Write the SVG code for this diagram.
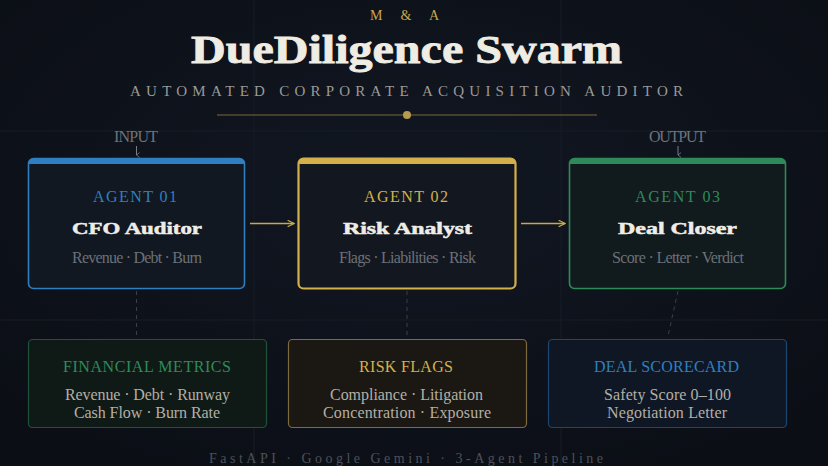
<svg xmlns="http://www.w3.org/2000/svg" width="828" height="466" viewBox="0 0 828 466">
<defs>
<style>
text{font-family:"Liberation Serif","Times New Roman",serif}
.grid{stroke:#161c27;stroke-width:1}
.dash{stroke:#3a404a;stroke-width:1;stroke-dasharray:4 4;fill:none}
.flow{stroke:#c9a84a;stroke-width:1.6;fill:none}
.lbl{fill:#6f737a;font-size:11.5}
.agent{font-size:13.5}
.name{font-size:22;font-weight:bold;fill:#f0ede6;stroke:#f0ede6;stroke-width:0.5}
.sub{font-size:13.5;fill:#6b7078}
.ctitle{font-size:12}
.cline{font-size:15.5;fill:#b3afa6}
</style>
<marker id="chev" viewBox="0 0 10 10" refX="9" refY="5" markerWidth="8" markerHeight="8" markerUnits="userSpaceOnUse" orient="auto">
<path d="M1,1 L9,5 L1,9" fill="none" stroke="#c9a84a" stroke-width="1.6"/>
</marker>
<marker id="down" viewBox="0 0 10 10" refX="5" refY="9" markerWidth="6" markerHeight="6" markerUnits="userSpaceOnUse" orient="auto-start-reverse">
<path d="M1,4 L5,9 L9,4" fill="none" stroke="#7a7e85" stroke-width="1.4"/>
</marker>
<radialGradient id="bg" cx="50%" cy="40%" r="70%">
<stop offset="0" stop-color="#111722"/>
<stop offset="1" stop-color="#0b0e15"/>
</radialGradient>
</defs>
<rect width="828" height="466" fill="url(#bg)"/>
<g id="grid">
<line class="grid" x1="0" y1="131" x2="828" y2="131"/>
<line class="grid" x1="0" y1="320" x2="828" y2="320"/>
<line class="grid" x1="254" y1="0" x2="254" y2="466"/>
<line class="grid" x1="561" y1="0" x2="561" y2="466"/>
</g>
<g id="header">
<text x="370" y="20" font-size="14" fill="#c9a84a" textLength="69">M &amp; A</text>
<text x="191" y="63" font-size="40" font-weight="bold" fill="#efece4" stroke="#efece4" stroke-width="0.8" textLength="431" lengthAdjust="spacingAndGlyphs">DueDiligence Swarm</text>
<text x="130" y="96" font-size="15" fill="#9a9a98" textLength="553">AUTOMATED CORPORATE ACQUISITION AUDITOR</text>
<line x1="217" y1="115" x2="597" y2="115" stroke="#7a6838" stroke-width="1.2"/>
<circle cx="407" cy="115" r="4" fill="#b89a4e"/>
</g>
<g id="connectors">
<line class="flow" x1="250" y1="223.5" x2="294" y2="223.5" marker-end="url(#chev)"/>
<line class="flow" x1="521" y1="223.5" x2="565" y2="223.5" marker-end="url(#chev)"/>
<line x1="136.5" y1="146" x2="136.5" y2="155" stroke="#7a7e85" stroke-width="1" marker-end="url(#down)"/>
<line x1="678" y1="146" x2="678" y2="155" stroke="#7a7e85" stroke-width="1" marker-end="url(#down)"/>
<line class="dash" x1="136.5" y1="291" x2="136.5" y2="336"/>
<line class="dash" x1="407" y1="291" x2="407" y2="336"/>
<line class="dash" x1="678" y1="291" x2="668" y2="336"/>
</g>
<g id="input-label"><text class="lbl" x="114" y="142" textLength="44">INPUT</text></g>
<g id="output-label"><text class="lbl" x="649" y="142" textLength="57">OUTPUT</text></g>
<g id="agent1">
<rect x="28.5" y="158.5" width="216" height="130" rx="5" fill="#111821" stroke="#2f7fc0" stroke-width="1.6"/>
<path d="M28.5,164 V163.5 a5,5 0 0 1 5,-5 H239.5 a5,5 0 0 1 5,5 V164 Z" fill="#2f7fc0"/>
<text class="agent" x="93" y="202" fill="#2f7fc0" textLength="84">AGENT 01</text>
<text class="name" x="72" y="234" textLength="130" lengthAdjust="spacingAndGlyphs">CFO Auditor</text>
<text class="sub" x="72" y="263" textLength="130">Revenue · Debt · Burn</text>
</g>
<g id="agent2">
<rect x="298.5" y="158.5" width="217" height="130" rx="5" fill="#131820" stroke="#d4b04a" stroke-width="2.2"/>
<path d="M298.5,164 V163.5 a5,5 0 0 1 5,-5 H510.5 a5,5 0 0 1 5,5 V164 Z" fill="#d4b04a"/>
<text class="agent" x="364" y="202" fill="#d4b04a" textLength="84">AGENT 02</text>
<text class="name" x="343" y="234" textLength="129" lengthAdjust="spacingAndGlyphs">Risk Analyst</text>
<text class="sub" x="339" y="263" textLength="137">Flags · Liabilities · Risk</text>
</g>
<g id="agent3">
<rect x="569.5" y="158.5" width="216" height="130" rx="5" fill="#111a1d" stroke="#2f8a5a" stroke-width="1.6"/>
<path d="M569.5,164 V163.5 a5,5 0 0 1 5,-5 H780.5 a5,5 0 0 1 5,5 V164 Z" fill="#2f8a5a"/>
<text class="agent" x="635" y="202" fill="#2f8a5a" textLength="85">AGENT 03</text>
<text class="name" x="618" y="234" textLength="119" lengthAdjust="spacingAndGlyphs">Deal Closer</text>
<text class="sub" x="612" y="263" textLength="132">Score · Letter · Verdict</text>
</g>
<g id="financial-metrics">
<rect x="28.5" y="339.5" width="238" height="88" rx="4" fill="#0f1a16" stroke="#1f5238" stroke-width="1.2"/>
<text class="ctitle" x="63" y="372" fill="#2f8a5a" textLength="168">FINANCIAL METRICS</text>
<text class="cline" x="65" y="400" textLength="165">Revenue · Debt · Runway</text>
<text class="cline" x="74" y="418" textLength="146">Cash Flow · Burn Rate</text>
</g>
<g id="risk-flags">
<rect x="288.5" y="339.5" width="238" height="88" rx="4" fill="#1b1712" stroke="#7d6a3e" stroke-width="1.2"/>
<text class="ctitle" x="359" y="372" fill="#d4b04a" textLength="94">RISK FLAGS</text>
<text class="cline" x="330" y="400" textLength="153">Compliance · Litigation</text>
<text class="cline" x="323" y="418" textLength="168">Concentration · Exposure</text>
</g>
<g id="deal-scorecard">
<rect x="548.5" y="339.5" width="238" height="88" rx="4" fill="#0f1725" stroke="#1d4670" stroke-width="1.2"/>
<text class="ctitle" x="594" y="372" fill="#2f7fc0" textLength="145">DEAL SCORECARD</text>
<text class="cline" x="604" y="400" textLength="127">Safety Score 0–100</text>
<text class="cline" x="607" y="418" textLength="120">Negotiation Letter</text>
</g>
<g id="footer">
<text x="209" y="463" font-size="14" fill="#4c515a" textLength="394">FastAPI · Google Gemini · 3-Agent Pipeline</text>
</g>
</svg>
